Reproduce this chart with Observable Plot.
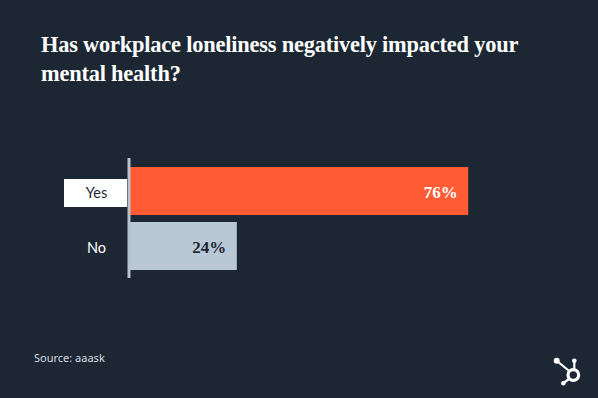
<!DOCTYPE html>
<html>
<head>
<meta charset="utf-8">
<script src="https://cdn.jsdelivr.net/npm/d3@7"></script>
<script src="https://cdn.jsdelivr.net/npm/@observablehq/plot@0.6"></script>
<style>
  html, body { margin: 0; padding: 0; background: #1c2733; }
  #wrap { position: relative; width: 598px; height: 398px; overflow: hidden; background: #1c2733; }
  #title { position: absolute; left: 41px; top: 30px; margin: 0; color: #ffffff;
    font-family: "Liberation Serif", "DejaVu Serif", serif; font-weight: bold; font-size: 22.4px;
    line-height: 29px; letter-spacing: -0.2px; width: 550px; white-space: nowrap; }
  #caption { position: absolute; left: 34px; top: 350px; color: #d5dbe1;
    font-family: "Noto Sans", Lato, sans-serif; font-size: 11px; }
  #chart { position: absolute; left: 0; top: 0; }
  #logo { position: absolute; left: 0; top: 0; }
</style>
</head>
<body>
<div id="wrap">
  <div id="chart"></div>
  <div id="title">Has workplace loneliness negatively impacted your<br>mental health?</div>
  <div id="caption">Source: aaask</div>
  <svg id="logo" width="598" height="398">
    <g stroke="#ffffff" fill="none" stroke-width="2.2" stroke-linecap="round">
      <line x1="557" y1="361" x2="568" y2="370"></line>
      <line x1="574.3" y1="361" x2="574.3" y2="368"></line>
      <line x1="563.5" y1="383" x2="569" y2="379"></line>
      <circle cx="573.3" cy="375" r="5.3" stroke-width="3.2"></circle>
    </g>
    <g fill="#ffffff">
      <circle cx="556.7" cy="360.7" r="3"></circle>
      <circle cx="574.3" cy="360.7" r="2.3"></circle>
      <circle cx="563.3" cy="383.3" r="2.3"></circle>
    </g>
  </svg>
</div>
<script>
const answers = ["Yes", "No"];
const shares = [76, 24];
const valueLabels = ["76%", "24%"];
const barColors = ["#ff5c35", "#b9c8d5"];
const valueColors = ["#ffffff", "#1c2733"];
const labelColors = ["#1c2733", "#ffffff"];
const highlighted = ["Yes"];

const data = answers.map((a, i) => ({
  answer: a, share: shares[i], label: valueLabels[i],
  fill: barColors[i], valueColor: valueColors[i], labelColor: labelColors[i]
}));

const highlightBox = (index, scales, values, dims) => {
  const g = d3.create("svg:g");
  const bw = scales.y.bandwidth ? scales.y.bandwidth() : 48;
  for (const a of highlighted) {
    const y0 = scales.y(a);
    g.append("rect")
      .attr("x", dims.marginLeft - 66)
      .attr("width", 63)
      .attr("y", y0 + 12)
      .attr("height", bw - 20)
      .attr("fill", "#ffffff");
  }
  return g.node();
};

const chart = Plot.plot({
  width: 598,
  height: 398,
  marginLeft: 130,
  marginRight: 23,
  marginTop: 166,
  marginBottom: 128,
  style: { background: "transparent", overflow: "visible" },
  x: { domain: [0, 100], axis: null },
  y: { domain: answers, axis: null, paddingInner: 0.13, paddingOuter: 0 },
  marks: [
    Plot.barX(data, { x: "share", y: "answer", fill: d => d.fill }),
    highlightBox,
    Plot.ruleX([0], { stroke: "#b7c2cc", strokeWidth: 3, dx: -1.5, insetTop: -8, insetBottom: -8 }),
    Plot.text(data, {
      x: 0, y: "answer", text: "answer", dx: -34, dy: 2, textAnchor: "middle",
      fill: d => d.labelColor, fontSize: 14.5,
      fontFamily: "Lato, 'Noto Sans', sans-serif"
    }),
    Plot.text(data, {
      x: "share", y: "answer", text: "label", dx: -11, dy: 1, textAnchor: "end",
      fill: d => d.valueColor, fontSize: 17, fontWeight: "bold",
      fontFamily: "'Liberation Serif', serif"
    })
  ]
});
document.getElementById("chart").appendChild(chart);
</script>
</body>
</html>
